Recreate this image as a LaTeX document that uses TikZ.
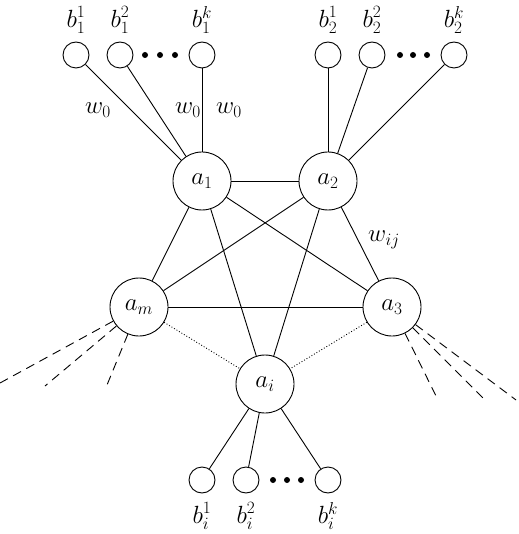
\documentclass[tikz,border=0pt]{standalone}
\usepackage{fontspec}
\begin{document}
\begin{tikzpicture}[x=1pt,y=-1pt,line width=0.9pt,
  big/.style={draw,circle,minimum size=58pt,inner sep=0pt,font=\fontsize{24}{28}\selectfont},
  small/.style={draw,circle,minimum size=26pt,inner sep=0pt},
  lbl/.style={inner sep=0pt,font=\fontsize{24}{28}\selectfont},
  dot/.style={fill,circle,minimum size=6pt,inner sep=0pt}]
\useasboundingbox (0,0) rectangle (518,534);
% big nodes
\node[big] (a1) at (202,181) {$a_1$};
\node[big] (a2) at (328,181) {$a_2$};
\node[big] (am) at (139,307) {$a_m$};
\node[big] (a3) at (392,307) {$a_3$};
\node[big] (ai) at (265,384) {$a_i$};
% small nodes top-left
\node[small] (b11) at (76,55) {};
\node[small] (b12) at (120,55) {};
\node[small] (b1k) at (202,55) {};
\node[dot] (d11) at (145,55) {};
\node[dot] (d12) at (160,55) {};
\node[dot] (d13) at (175,55) {};
\node[lbl] (l11) at (76,20) {$b_1^1$};
\node[lbl] (l12) at (120,20) {$b_1^2$};
\node[lbl] (l1k) at (202,20) {$b_1^k$};
% small nodes top-right
\node[small] (b21) at (328,55) {};
\node[small] (b22) at (372,55) {};
\node[small] (b2k) at (454,55) {};
\node[dot] (d21) at (400,55) {};
\node[dot] (d22) at (413,55) {};
\node[dot] (d23) at (427,55) {};
\node[lbl] (l21) at (328,20) {$b_2^1$};
\node[lbl] (l22) at (372,20) {$b_2^2$};
\node[lbl] (l2k) at (454,20) {$b_2^k$};
% small nodes bottom
\node[small] (bi1) at (202,480) {};
\node[small] (bi2) at (246,480) {};
\node[small] (bik) at (328,480) {};
\node[dot] (di1) at (273,480) {};
\node[dot] (di2) at (287,480) {};
\node[dot] (di3) at (301,480) {};
\node[lbl] (li1) at (202,516) {$b_i^1$};
\node[lbl] (li2) at (246,516) {$b_i^2$};
\node[lbl] (lik) at (328,516) {$b_i^k$};
% weight labels
\node[lbl] (w1) at (98,110) {$w_0$};
\node[lbl] (w2) at (188,110) {$w_0$};
\node[lbl] (w3) at (229,110) {$w_0$};
\node[lbl] (wij) at (384,240) {$w_{ij}$};
% edges to leaves
\draw (a1) -- (b11); \draw (a1) -- (b12); \draw (a1) -- (b1k);
\draw (a2) -- (b21); \draw (a2) -- (b22); \draw (a2) -- (b2k);
\draw (ai) -- (bi1); \draw (ai) -- (bi2); \draw (ai) -- (bik);
% core edges
\draw (a1) -- (a2);
\draw (a1) -- (am);
\draw (a1) -- (a3);
\draw (a1) -- (ai);
\draw (a2) -- (am);
\draw (a2) -- (ai);
\draw (a2) -- (a3);
\draw (am) -- (a3);
\draw[dotted] (am) -- (ai);
\draw[dotted] (a3) -- (ai);
% dashed stubs
\coordinate (e1) at (0,383);
\coordinate (e2) at (45,386);
\coordinate (e3) at (107,385);
\coordinate (f1) at (438,400);
\coordinate (f2) at (486,401);
\coordinate (f3) at (516,400);
\draw[dashed,dash pattern=on 9pt off 6pt] (am) -- (e1);
\draw[dashed,dash pattern=on 9pt off 6pt] (am) -- (e2);
\draw[dashed,dash pattern=on 9pt off 6pt] (am) -- (e3);
\draw[dashed,dash pattern=on 9pt off 6pt] (a3) -- (f1);
\draw[dashed,dash pattern=on 9pt off 6pt] (a3) -- (f2);
\draw[dashed,dash pattern=on 9pt off 6pt] (a3) -- (f3);
\end{tikzpicture}
\end{document}
